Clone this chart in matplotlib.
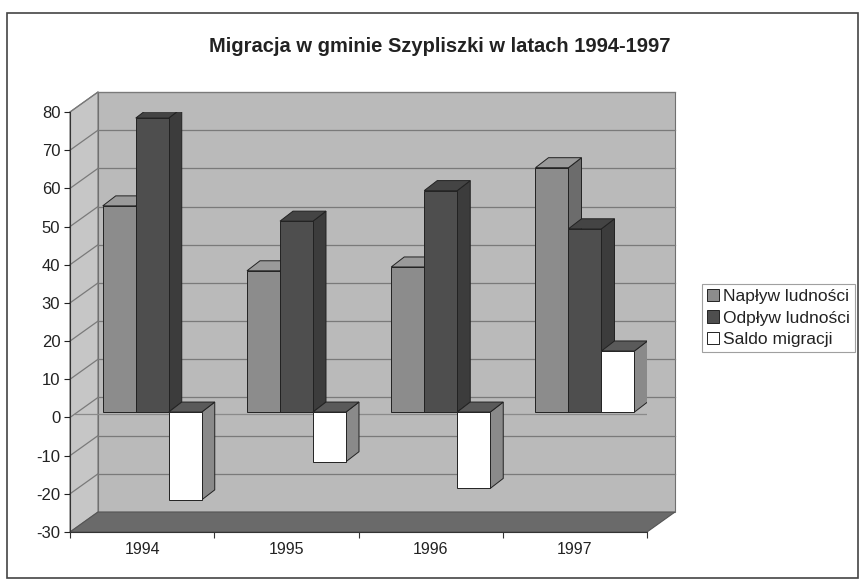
import numpy as np
import matplotlib.pyplot as plt
from matplotlib.patches import Polygon, Rectangle

plt.rcParams['font.family'] = ['Liberation Sans', 'DejaVu Sans']
plt.rcParams['axes.unicode_minus'] = False

# data
years = ['1994', '1995', '1996', '1997']
naplyw = [54, 37, 38, 64]
odplyw = [77, 50, 58, 48]
saldo = [-23, -13, -20, 16]
series_names = ['Napływ ludności', 'Odpływ ludności', 'Saldo migracji']
y_ticks = list(range(-30, 81, 10))

# (front, top, side) shades for each series
face_colors = [('#8c8c8c', '#9a9a9a', '#6c6c6c'),
               ('#4e4e4e', '#444444', '#3c3c3c'),
               ('#ffffff', '#5a5a5a', '#8a8a8a')]

fig = plt.figure(figsize=(8.59, 5.82), dpi=100)
ax = fig.add_axes([70 / 859, 1 - 532 / 582, 577 / 859, 420 / 582])
ax.set_xlim(0, 4)
ax.set_ylim(-30, 80)
ax.patch.set_visible(False)

# pixel -> data helpers
px_x = 4 / 577
px_y = 110 / 420
wall_dx, wall_dy = 28 * px_x, 20 * px_y     # full depth of the box
front_dx, front_dy = 7.5 * px_x, 5.4 * px_y  # where the bar fronts sit
bar_dx, bar_dy = 13 * px_x, 10 * px_y        # depth of a bar
bar_w = 33 * px_x
group_off = 0.175

ymin, ymax = -30, 80

# back wall
ax.add_patch(Rectangle((wall_dx, ymin + wall_dy), 4, ymax - ymin,
                       facecolor='#bababa', edgecolor='#707070', lw=0.8,
                       clip_on=False, zorder=0))
# side wall
ax.add_patch(Polygon([(0, ymin), (0, ymax), (wall_dx, ymax + wall_dy), (wall_dx, ymin + wall_dy)],
                     closed=True, facecolor='#c6c6c6', edgecolor='#707070', lw=0.8,
                     clip_on=False, zorder=0))
# floor
ax.add_patch(Polygon([(0, ymin), (4, ymin), (4 + wall_dx, ymin + wall_dy), (wall_dx, ymin + wall_dy)],
                     closed=True, facecolor='#6a6a6a', edgecolor='#555555', lw=0.8,
                     clip_on=False, zorder=0.5))

# gridlines on back and side wall
for v in y_ticks[1:]:
    ax.plot([wall_dx, 4 + wall_dx], [v + wall_dy, v + wall_dy], color='#7a7a7a', lw=0.9,
            clip_on=False, zorder=0.2)
    ax.plot([0, wall_dx], [v, v + wall_dy], color='#7a7a7a', lw=0.9,
            clip_on=False, zorder=0.2)

# zero line at the level of the bars
ax.plot([front_dx * 0.6, 4 + front_dx * 0.6], [front_dy * 0.6, front_dy * 0.6],
        color='#8a8a8a', lw=0.9, zorder=0.3)

x = np.arange(len(years))
all_values = [naplyw, odplyw, saldo]

z = 1
for i in range(len(years)):
    for j, vals in enumerate(all_values):
        v = vals[i]
        fc, tc, sc = face_colors[j]
        x0 = x[i] + group_off + j * bar_w + front_dx
        x1 = x0 + bar_w
        lo, hi = min(0, v) + front_dy, max(0, v) + front_dy
        # side face
        ax.add_patch(Polygon([(x1, lo), (x1, hi), (x1 + bar_dx, hi + bar_dy), (x1 + bar_dx, lo + bar_dy)],
                             closed=True, facecolor=sc, edgecolor='#222222', lw=0.7, zorder=z))
        # top face
        ax.add_patch(Polygon([(x0, hi), (x1, hi), (x1 + bar_dx, hi + bar_dy), (x0 + bar_dx, hi + bar_dy)],
                             closed=True, facecolor=tc, edgecolor='#222222', lw=0.7, zorder=z))
        z += 0.1
        # front face
        ax.bar(x0, v, width=bar_w, bottom=front_dy, align='edge', color=fc,
               edgecolor='#222222', linewidth=0.7, zorder=z,
               label=series_names[j] if i == 0 else None)
        z += 0.1

# axes
for s in ['top', 'right']:
    ax.spines[s].set_visible(False)
ax.spines['left'].set_color('#333333')
ax.spines['bottom'].set_color('#333333')
ax.spines['bottom'].set_bounds(0, 4)
ax.set_yticks(y_ticks)
ax.tick_params(axis='y', length=4, pad=3, labelsize=12, colors='#222222')
ax.set_xticks(np.arange(0, 5))
ax.set_xticklabels([])
ax.set_xticks(x + 0.5, minor=True)
ax.set_xticklabels(years, minor=True)
ax.tick_params(axis='x', which='major', length=4, colors='#333333')
ax.tick_params(axis='x', which='minor', length=0, pad=7, labelsize=11.5, colors='#222222')

fig.text(440 / 859, 1 - 47 / 582, 'Migracja w gminie Szypliszki w latach 1994-1997',
         ha='center', va='center', fontsize=14.5, fontweight='bold', color='#222222')

leg = fig.legend(loc='upper left', bbox_to_anchor=(702 / 859, 1 - 284 / 582),
                 fontsize=12.5, frameon=True, fancybox=False, edgecolor='#888888',
                 handlelength=0.7, handleheight=0.7, handletextpad=0.2,
                 borderpad=0.3, labelspacing=0.35, borderaxespad=0)
leg.get_frame().set_linewidth(0.8)
for t in leg.get_texts():
    t.set_color('#222222')

# outer chart border
fig.add_artist(Rectangle((7 / 859, 1 - 578 / 582), 851 / 859, 565 / 582,
                         transform=fig.transFigure, fill=False,
                         edgecolor='#444444', lw=1.2))

fig.savefig('out.png', dpi=100)
